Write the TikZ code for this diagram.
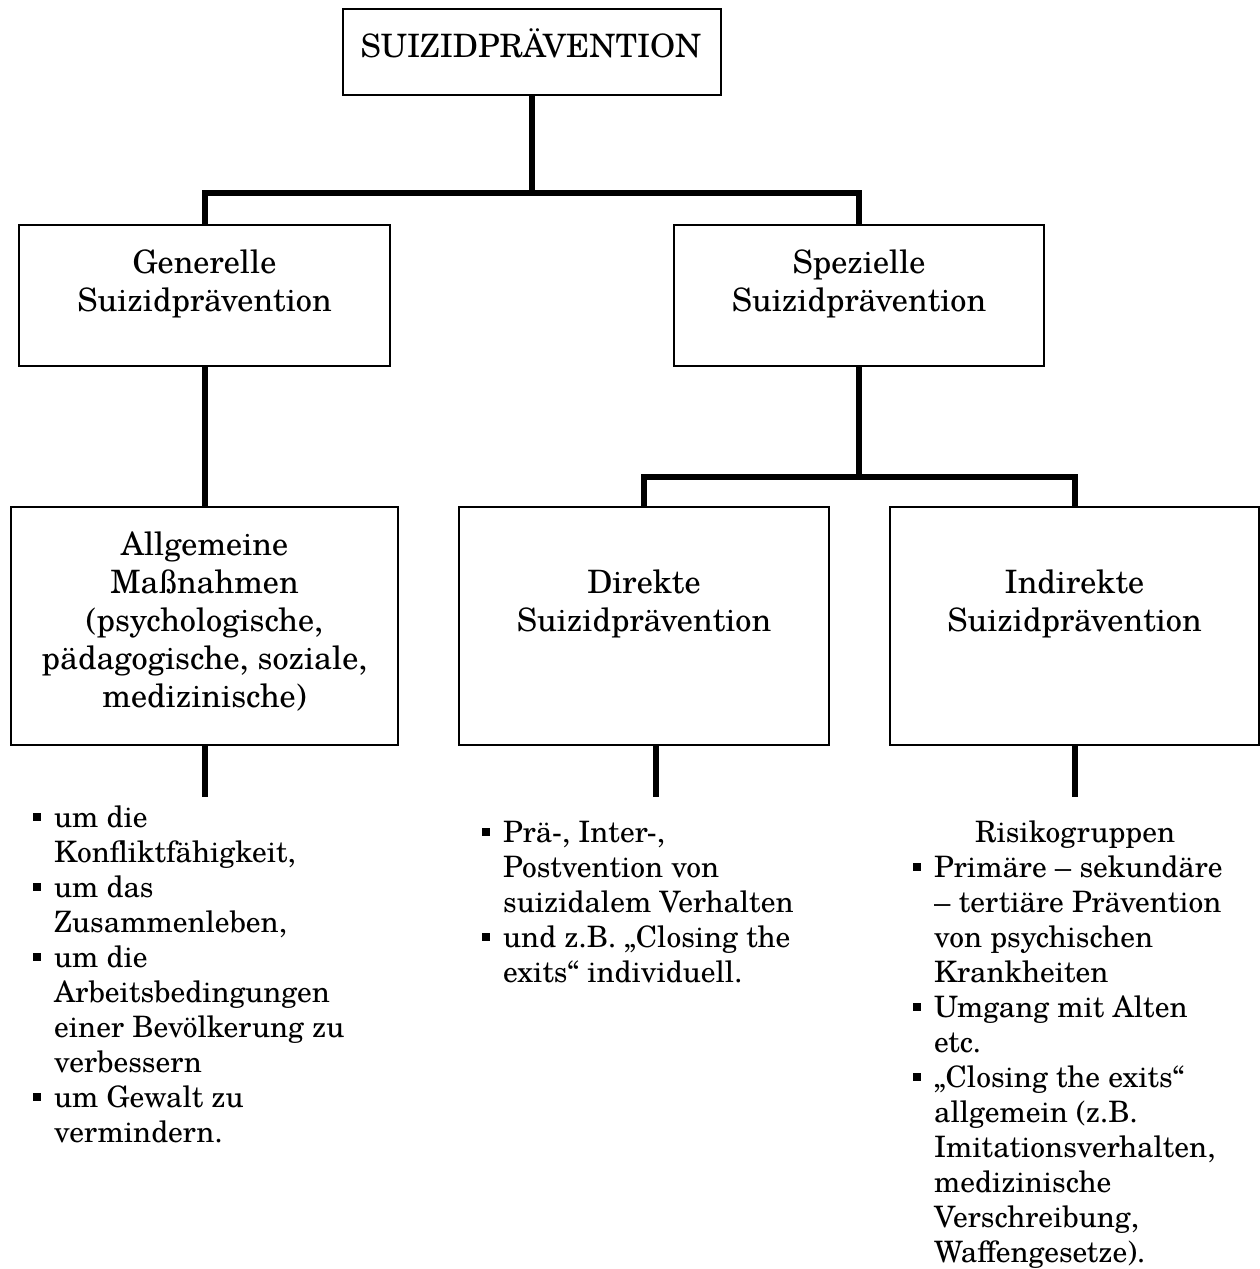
\documentclass[tikz,border=0pt]{standalone}
\usepackage{fontspec}
\setmainfont{TeX Gyre Schola}
\newcommand\blt{\makebox[21pt][l]{\rule[6pt]{8pt}{8pt}}}
\newcommand\indt{\hspace*{21pt}}
\begin{document}
\begin{tikzpicture}[x=1pt,y=-1pt,
  box/.style={draw, line width=1.8pt, inner sep=0pt, rectangle},
  conn/.style={line width=6pt},
  txt/.style={inner sep=0pt, anchor=base, font=\fontsize{32.2}{38}\selectfont},
  lst/.style={inner sep=0pt, anchor=base west, font=\fontsize{29.5}{35}\selectfont}]
\useasboundingbox (0,0) rectangle (1260,1269);
% boxes
\node[box, minimum width=378pt, minimum height=86pt] (top) at (532,52) {};
\node[box, minimum width=371pt, minimum height=141pt] (gen) at (204.5,295.5) {};
\node[box, minimum width=370pt, minimum height=141pt] (spez) at (859,295.5) {};
\node[box, minimum width=387pt, minimum height=238pt] (allg) at (204.5,626) {};
\node[box, minimum width=370pt, minimum height=238pt] (dir) at (644,626) {};
\node[box, minimum width=369pt, minimum height=238pt] (ind) at (1074.5,626) {};
% texts
\node[txt] (tTop) at (531,57) {SUIZIDPRÄVENTION};
\node[txt] (tGen) at (204.5,273.5) {\parbox[t]{370pt}{\centering Generelle\\Suizidprävention}};
\node[txt] (tSpez) at (859,273) {\parbox[t]{370pt}{\centering Spezielle\\Suizidprävention}};
\node[txt] (tAllg) at (204.5,555) {\parbox[t]{385pt}{\centering Allgemeine\\Maßnahmen\\(psychologische,\\pädagogische, soziale,\\medizinische)}};
\node[txt] (tDir) at (644,593) {\parbox[t]{370pt}{\centering Direkte\\Suizidprävention}};
\node[txt] (tInd) at (1074.5,593) {\parbox[t]{369pt}{\centering Indirekte\\Suizidprävention}};
% connectors
\coordinate (j1) at (532,193);
\coordinate (j2) at (859,477);
\coordinate (s1) at (204.5,797);
\coordinate (s2) at (656,797);
\coordinate (s3) at (1074.5,797);
\draw[conn] (top.south) -- (j1);
\draw[conn] (j1) -| (gen.north);
\draw[conn] (j1) -| (spez.north);
\draw[conn] (gen.south) -- (allg.north);
\draw[conn] (spez.south) -- (j2);
\draw[conn] (j2) -| (dir.north);
\draw[conn] (j2) -| (ind.north);
\draw[conn] (allg.south) -- (s1);
\draw[conn] (s2 |- dir.south) -- (s2);
\draw[conn] (ind.south) -- (s3);
% lists
\node[lst] (lLeft) at (33,827) {\parbox[t]{400pt}{\raggedright
\blt um die\\
\indt Konfliktfähigkeit,\\
\blt um das\\
\indt Zusammenleben,\\
\blt um die\\
\indt Arbeitsbedingungen\\
\indt einer Bevölkerung zu\\
\indt verbessern\\
\blt um Gewalt zu\\
\indt vermindern.}};
\node[lst] (lMid) at (482,842) {\parbox[t]{400pt}{\raggedright
\blt Prä-, Inter-,\\
\indt Postvention von\\
\indt suizidalem Verhalten\\
\blt und z.B. „Closing the\\
\indt exits“ individuell.}};
\node[lst] (lRight) at (913,842) {\parbox[t]{347pt}{\raggedright
\makebox[324pt][c]{Risikogruppen}\\
\blt Primäre – sekundäre\\
\indt – tertiäre Prävention\\
\indt von psychischen\\
\indt Krankheiten\\
\blt Umgang mit Alten\\
\indt etc.\\
\blt „Closing the exits“\\
\indt allgemein (z.B.\\
\indt Imitationsverhalten,\\
\indt medizinische\\
\indt Verschreibung,\\
\indt Waffengesetze).}};
\end{tikzpicture}
\end{document}
